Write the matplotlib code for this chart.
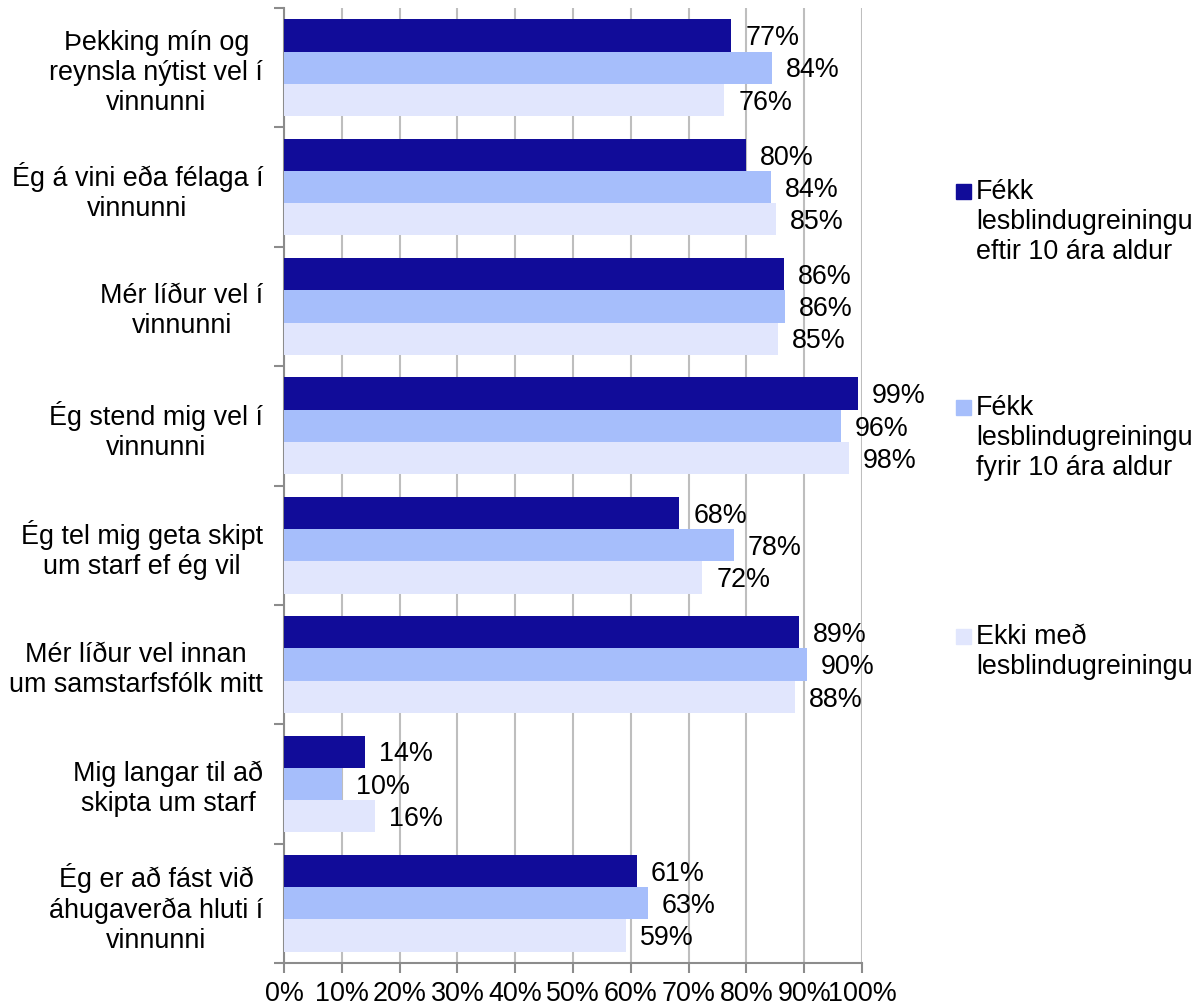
import matplotlib
matplotlib.use("Agg")
import matplotlib.pyplot as plt
from matplotlib.patches import Rectangle
from matplotlib.ticker import FixedLocator, MultipleLocator, PercentFormatter
import numpy as np

plt.rcParams['font.family'] = ['Liberation Sans', 'DejaVu Sans']

categories = [
    "Þekking mín og\nreynsla nýtist vel í\nvinnunni",
    "Ég á vini eða félaga í\nvinnunni",
    "Mér líður vel í\nvinnunni",
    "Ég stend mig vel í\nvinnunni",
    "Ég tel mig geta skipt\num starf ef ég vil",
    "Mér líður vel innan\num samstarfsfólk mitt",
    "Mig langar til að\nskipta um starf",
    "Ég er að fást við\náhugaverða hluti í\nvinnunni",
]
series_names = [
    "Fékk\nlesblindugreiningu\neftir 10 ára aldur",
    "Fékk\nlesblindugreiningu\nfyrir 10 ára aldur",
    "Ekki með\nlesblindugreiningu",
]
after10 = [77.4, 79.9, 86.5, 99.3, 68.4, 89.1, 14.1, 61.1]
before10 = [84.4, 84.2, 86.7, 96.3, 77.8, 90.4, 10.1, 63.0]
none = [76.2, 85.1, 85.4, 97.8, 72.4, 88.4, 15.8, 59.2]
labels_after10 = ["77%", "80%", "86%", "99%", "68%", "89%", "14%", "61%"]
labels_before10 = ["84%", "84%", "86%", "96%", "78%", "90%", "10%", "63%"]
labels_none = ["76%", "85%", "85%", "98%", "72%", "88%", "16%", "59%"]

colors = ["#110C99", "#A6BEFB", "#E1E6FD"]
series = [after10, before10, none]
series_labels = [labels_after10, labels_before10, labels_none]

W, H = 1198, 1008
fig = plt.figure(figsize=(W / 100, H / 100), dpi=100)
ax = fig.add_axes([284 / W, 1 - 963 / H, (862 - 284) / W, (963 - 8) / H])

n = len(categories)
y = np.arange(n)
h = 0.27
fs = 19.4
for k, (vals, col, labs) in enumerate(zip(series, colors, series_labels)):
    pos = y + (k - 1) * h
    bars = ax.barh(pos, vals, height=h, color=col, zorder=3)
    for b, lab in zip(bars, labs):
        ax.annotate(lab, (b.get_width(), b.get_y() + b.get_height() / 2),
                    xytext=(10, -2), textcoords='offset points',
                    va='center', ha='left', fontsize=fs, color='black')

ax.set_xlim(0, 100)
ax.set_ylim(n - 0.5, -0.5)
ax.xaxis.set_major_locator(MultipleLocator(10))
ax.xaxis.set_major_formatter(PercentFormatter(decimals=0))
ax.grid(axis='x', color='#BEBEBE', linewidth=1.5, zorder=0)
ax.set_axisbelow(True)

ax.set_yticks(y)
ax.set_yticklabels(categories, multialignment='center', fontsize=fs)
ax.yaxis.set_minor_locator(FixedLocator(np.arange(n + 1) - 0.5))
ax.tick_params(axis='y', which='major', length=0, pad=15)
ax.tick_params(axis='y', which='minor', length=7, width=1.5, color='#8C8C8C')
ax.tick_params(axis='x', which='major', length=7, width=1.5, color='#8C8C8C',
               labelsize=fs, pad=6)
for lab in ax.get_yticklabels():
    lab.set_horizontalalignment('right')

for s in ['top', 'right']:
    ax.spines[s].set_visible(False)
for s in ['left', 'bottom']:
    ax.spines[s].set_color('#8C8C8C')
    ax.spines[s].set_linewidth(1.5)

# legend (manual to keep marker on first line)
tops = [184, 400, 629]
for name, col, t in zip(series_names, colors, tops):
    fig.add_artist(Rectangle((956 / W, 1 - (t + 15) / H), 15 / W, 15 / H,
                             transform=fig.transFigure, color=col))
    fig.text(976 / W, 1 - (t - 5) / H, name, fontsize=fs, va='top', ha='left',
             linespacing=1.2)

fig.savefig("out.png", dpi=100)
